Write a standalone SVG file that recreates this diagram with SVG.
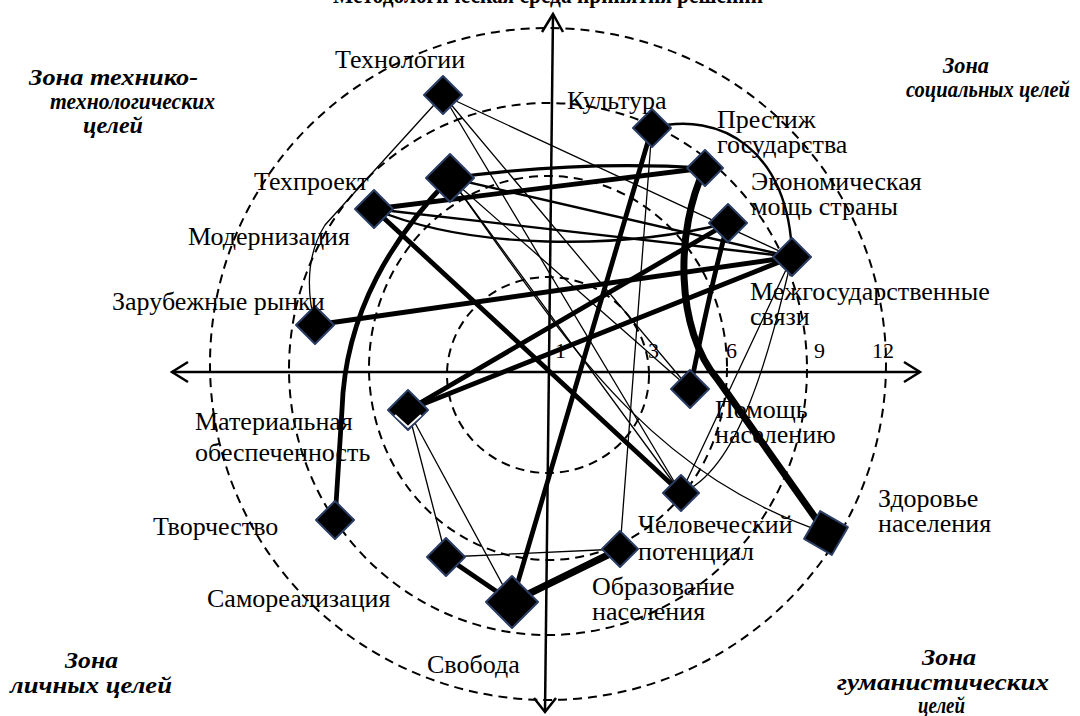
<svg xmlns="http://www.w3.org/2000/svg" width="1080" height="716" viewBox="0 0 1080 716">
<style>
  .ring{fill:none;stroke:#000;stroke-width:2;stroke-dasharray:9 6}
  .axis{fill:none;stroke:#000;stroke-width:2.5}
  .c{fill:none;stroke:#000;stroke-linecap:round}
  .t1{stroke-width:1.3}
  .t2{stroke-width:2.4}
  .t3{stroke-width:3.2}
  .t4{stroke-width:4.8}
  .t5{stroke-width:7}
  .nd{fill:#000;stroke:#2b3d63;stroke-width:2;stroke-linejoin:round}
  .lb{font-family:"Liberation Serif","Times New Roman",serif;font-size:26px;fill:#000}
  .zn{font-family:"Liberation Serif","Times New Roman",serif;font-size:23px;font-weight:bold;font-style:italic;fill:#000}
  .tk{font-family:"Liberation Serif","Times New Roman",serif;font-size:22px;fill:#000}
</style>
<rect width="1080" height="716" fill="#fff"/>
<text x="333" y="3" font-family="Liberation Serif, serif" font-size="25" font-weight="bold" textLength="430" lengthAdjust="spacingAndGlyphs">Методологическая среда принятия решений</text>
<g id="rings">
  <ellipse class="ring" cx="548" cy="375" rx="101" ry="98"/>
  <ellipse class="ring" cx="548" cy="368" rx="179" ry="192"/>
  <ellipse class="ring" cx="548" cy="369" rx="259" ry="266"/>
  <ellipse class="ring" cx="548" cy="364" rx="338" ry="336"/>
</g>
<g id="axes">
  <line class="axis" x1="553" y1="14" x2="545" y2="712"/>
  <polyline class="axis" points="542,32 553,14 563,32"/>
  <polyline class="axis" points="534,698 545,712 556,698"/>
  <line class="axis" x1="172" y1="372" x2="920" y2="372"/>
  <polyline class="axis" points="188,362 172,372 188,382"/>
  <polyline class="axis" points="904,362 920,372 904,382"/>
  <text class="tk" x="555" y="358">1</text>
  <text class="tk" x="648" y="358">3</text>
  <text class="tk" x="726" y="358">6</text>
  <text class="tk" x="814" y="358">9</text>
  <text class="tk" x="872" y="358">12</text>
</g>
<g id="connectors">
  <path class="c t1" d="M443,95 L325,225 Q300,265 315,325"/>
  <path class="c t1" d="M443,95 L681,493"/>
  <path class="c t1" d="M443,95 L690,389"/>
  <path class="c t1" d="M443,95 L792,257"/>
  <path class="c t1" d="M450,178 L690,389"/>
  <path class="c t1" d="M450,178 L681,493"/>
  <path class="c t1" d="M450,178 C560,330 640,470 826,533"/>
  <path class="c t1" d="M408,410 L446,557"/>
  <path class="c t1" d="M408,410 L512,602"/>
  <path class="c t1" d="M446,557 L620,549"/>
  <path class="c t1" d="M620,549 L652,128"/>
  <path class="c t1" d="M792,257 L681,493"/>
  <path class="c t1" d="M792,257 C770,350 740,470 681,493"/>
  <path class="c t2" d="M374,209 L792,257"/>
  <path class="c t2" d="M374,209 C470,250 620,250 728,223"/>
  <path class="c t2" d="M450,178 L792,257"/>
  <path class="c t2" d="M652,128 C720,110 790,150 792,257"/>
  <path class="c t3" d="M450,178 Q580,160 705,168"/>
  <path class="c t4" d="M374,209 L705,168"/>
  <path class="c t4" d="M374,209 L681,493"/>
  <path class="c t4" d="M450,178 C395,235 345,310 342,410 L335,520"/>
  <path class="c t4" d="M315,325 L792,257"/>
  <path class="c t4" d="M408,410 L728,223"/>
  <path class="c t4" d="M408,410 L792,257"/>
  <path class="c t4" d="M512,602 L652,128"/>
  <path class="c t5" d="M512,602 L620,549"/>
  <path class="c t4" d="M512,602 L446,557"/>
  <path class="c t4" d="M728,223 C712,280 700,340 690,389"/>
  <path class="c t5" d="M705,168 C675,230 675,330 718,380 L826,533"/>
</g>
<g id="n-tech"><polygon class="nd" points="443,76 462,95 443,114 424,95"/><text class="lb" x="335" y="68">Технологии</text></g>
<g id="n-kult"><polygon class="nd" points="652,109 671,128 652,147 633,128"/><text class="lb" x="567" y="109">Культура</text></g>
<g id="n-prest"><polygon class="nd" points="705,150 723,168 705,186 687,168"/><text class="lb" x="717" y="128">Престиж</text><text class="lb" x="717" y="153">государства</text></g>
<g id="n-modern"><polygon class="nd" points="450,154 474,178 450,202 426,178"/><text class="lb" x="188" y="245">Модернизация</text></g>
<g id="n-techproekt"><polygon class="nd" points="374,190 393,209 374,228 355,209"/><text class="lb" x="254" y="190">Техпроект</text></g>
<g id="n-ekon"><polygon class="nd" points="728,204 747,223 728,242 709,223"/><text class="lb" x="751" y="190">Экономическая</text><text class="lb" x="751" y="215">мощь страны</text></g>
<g id="n-mezh"><polygon class="nd" points="792,238 811,257 792,276 773,257"/><text class="lb" x="750" y="300">Межгосударственные</text><text class="lb" x="750" y="325">связи</text></g>
<g id="n-zarub"><polygon class="nd" points="315,306 334,325 315,344 296,325"/><text class="lb" x="112" y="310">Зарубежные рынки</text></g>
<g id="n-pomosh"><polygon class="nd" points="690,370 709,389 690,408 671,389"/><text class="lb" x="715" y="418">Помощь</text><text class="lb" x="715" y="443">населению</text></g>
<g id="n-mater"><polygon class="nd" points="408,390 428,410 408,430 388,410"/><polyline points="395,415 408,427 421,415" fill="none" stroke="#fff" stroke-width="2"/><text class="lb" x="195" y="430">Материальная</text><text class="lb" x="195" y="461">обеспеченность</text></g>
<g id="n-chel"><polygon class="nd" points="681,475 699,493 681,511 663,493"/><text class="lb" x="638" y="533">Человеческий</text><text class="lb" x="638" y="560">потенциал</text></g>
<g id="n-zdor"><rect class="nd" x="810" y="517" width="32" height="32" transform="rotate(30 826 533)"/><text class="lb" x="878" y="507">Здоровье</text><text class="lb" x="878" y="532">населения</text></g>
<g id="n-tvor"><polygon class="nd" points="335,501 354,520 335,539 316,520"/><text class="lb" x="153" y="535">Творчество</text></g>
<g id="n-samor"><polygon class="nd" points="446,538 465,557 446,576 427,557"/><text class="lb" x="207" y="607">Самореализация</text></g>
<g id="n-obraz"><polygon class="nd" points="620,531 638,549 620,567 602,549"/><text class="lb" x="592" y="595">Образование</text><text class="lb" x="592" y="620">населения</text></g>
<g id="n-svob"><polygon class="nd" points="512,576 538,602 512,628 486,602"/><text class="lb" x="427" y="673">Свобода</text></g>
<g id="zones">
  <text class="zn" x="29" y="85" textLength="169" lengthAdjust="spacingAndGlyphs">Зона технико-</text>
  <text class="zn" x="50" y="109" textLength="165" lengthAdjust="spacingAndGlyphs">технологических</text>
  <text class="zn" x="83" y="133" textLength="60" lengthAdjust="spacingAndGlyphs">целей</text>
  <text class="zn" x="943" y="73" textLength="46" lengthAdjust="spacingAndGlyphs">Зона</text>
  <text class="zn" x="906" y="97" textLength="164" lengthAdjust="spacingAndGlyphs">социальных целей</text>
  <text class="zn" x="65" y="668" textLength="53" lengthAdjust="spacingAndGlyphs">Зона</text>
  <text class="zn" x="10" y="693" textLength="162" lengthAdjust="spacingAndGlyphs">личных целей</text>
  <text class="zn" x="922" y="665" textLength="54" lengthAdjust="spacingAndGlyphs">Зона</text>
  <text class="zn" x="837" y="690" textLength="212" lengthAdjust="spacingAndGlyphs">гуманистических</text>
  <text class="zn" x="918" y="713" textLength="47" lengthAdjust="spacingAndGlyphs">целей</text>
</g>
</svg>
